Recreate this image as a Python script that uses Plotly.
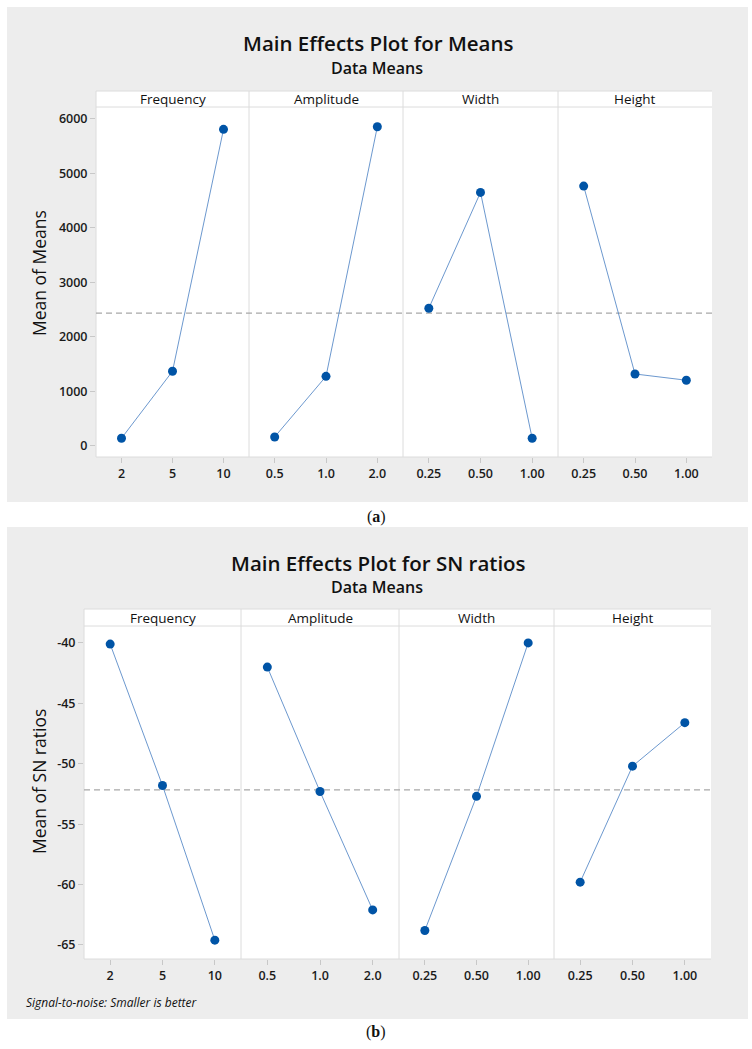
import plotly.graph_objects as go
import numpy as np

# ---------------- data ----------------
factors = ["Frequency", "Amplitude", "Width", "Height"]
levels = [["2", "5", "10"], ["0.5", "1.0", "2.0"], ["0.25", "0.50", "1.00"], ["0.25", "0.50", "1.00"]]
means_values = [[140, 1370, 5810], [164, 1276, 5857], [2527, 4653, 140], [4769, 1320, 1205]]
sn_values = [[-40.1, -51.8, -64.6], [-42.0, -52.3, -62.1], [-63.8, -52.7, -40.0], [-59.8, -50.2, -46.6]]
means_ticks = [0, 1000, 2000, 3000, 4000, 5000, 6000]
means_ticktext = ["0", "1000", "2000", "3000", "4000", "5000", "6000"]
sn_ticks = [-65, -60, -55, -50, -45, -40]
sn_ticktext = ["-65", "-60", "-55", "-50", "-45", "-40"]

W, H = 752, 1049
def px(x): return x / W
def py(y): return 1 - y / H

FONT = "Open Sans"
DARK = "#1a1a1a"
GRID = "#dcdcdc"
BG = "#ededed"
MARK = "#0054a6"
LINE = "#5b8cc8"

panels = [
    dict(values=means_values, xs=[96, 249, 403, 558, 712], plot_bottom=457, strip_bot=107, strip_top=91,
         bg=(7, 7, 748, 502), title="Main Effects Plot for Means", title_y=43, sub_y=68,
         ytitle="Mean of Means", ytitle_y=273, yrange=[-204, 6220], ticks=means_ticks, ticktext=means_ticktext,
         caption="(<b>a</b>)", cap_y=517),
    dict(values=sn_values, xs=[84, 241, 399, 554, 711], plot_bottom=959, strip_bot=626, strip_top=609,
         bg=(7, 527, 748, 1019), title="Main Effects Plot for SN ratios", title_y=563, sub_y=587,
         ytitle="Mean of SN ratios", ytitle_y=782, yrange=[-66.16, -38.6], ticks=sn_ticks, ticktext=sn_ticktext,
         caption="(<b>b</b>)", cap_y=1032),
]

fig = go.Figure()
shapes = []
annotations = []
layout = {}

axis_n = 0
for pi, P in enumerate(panels):
    yname = "y" if pi == 0 else "y2"
    ykey = "yaxis" if pi == 0 else "yaxis2"
    bx0, by0, bx1, by1 = P["bg"]
    shapes.append(dict(type="rect", xref="paper", yref="paper", x0=px(bx0), x1=px(bx1), y0=py(by1), y1=py(by0),
                       fillcolor=BG, line=dict(width=0), layer="below"))
    xs = P["xs"]
    shapes.append(dict(type="rect", xref="paper", yref="paper", x0=px(xs[0]), x1=px(xs[-1]),
                       y0=py(P["plot_bottom"]), y1=py(P["strip_top"]),
                       fillcolor="white", line=dict(width=0), layer="below"))
    for yy in (P["strip_top"], P["strip_bot"]):
        shapes.append(dict(type="line", xref="paper", yref="paper", x0=px(xs[0]), x1=px(xs[-1]),
                           y0=py(yy), y1=py(yy), line=dict(color=GRID, width=1), layer="below"))
    shapes.append(dict(type="line", xref="paper", yref="paper", x0=px(xs[0]), x1=px(xs[-1]),
                       y0=py(P["plot_bottom"]), y1=py(P["plot_bottom"]), line=dict(color=GRID, width=1), layer="below"))
    shapes.append(dict(type="line", xref="paper", yref="paper", x0=px(xs[0]), x1=px(xs[0]),
                       y0=py(P["plot_bottom"]), y1=py(P["strip_top"]), line=dict(color=GRID, width=1), layer="below"))
    for xx in xs[1:-1]:
        shapes.append(dict(type="line", xref="paper", yref="paper", x0=px(xx), x1=px(xx),
                           y0=py(P["plot_bottom"]), y1=py(P["strip_top"]), line=dict(color=GRID, width=1), layer="below"))
    gm = float(np.mean(P["values"]))
    shapes.append(dict(type="line", xref="paper", yref=yname, x0=px(xs[0]), x1=px(xs[-1]), y0=gm, y1=gm,
                       line=dict(color="#a8a8a8", width=1.3, dash="6px,4px"), layer="below"))

    for fi in range(4):
        axis_n += 1
        xname = "x" if axis_n == 1 else f"x{axis_n}"
        xkey = "xaxis" if axis_n == 1 else f"xaxis{axis_n}"
        layout[xkey] = dict(domain=[px(xs[fi]), px(xs[fi + 1])], anchor=yname, type="category",
                            categoryorder="array", categoryarray=levels[fi], range=[-0.5, 2.5],
                            showgrid=False, zeroline=False, showline=False, ticks="outside", ticklen=5,
                            tickcolor="#c8c8c8", tickfont=dict(family=FONT, size=12.5, color=DARK, weight=600),
                            fixedrange=True)
        fig.add_trace(go.Scatter(x=levels[fi], y=P["values"][fi], xaxis=xname, yaxis=yname, mode="lines+markers",
                                 line=dict(color=LINE, width=0.9), marker=dict(color=MARK, size=9),
                                 showlegend=False, hoverinfo="skip"))
        annotations.append(dict(text=factors[fi], xref="paper", yref="paper",
                                x=px((xs[fi] + xs[fi + 1]) / 2), y=py((P["strip_top"] + P["strip_bot"]) / 2),
                                showarrow=False, xanchor="center", yanchor="middle",
                                font=dict(family=FONT, size=13.5, color="#111111")))
        if fi == 0:
            layout[ykey] = dict(domain=[py(P["plot_bottom"]), py(P["strip_bot"])], anchor=xname,
                                range=P["yrange"], tickvals=P["ticks"], ticktext=P["ticktext"],
                                showgrid=False, zeroline=False, showline=False, ticks="outside", ticklen=5,
                                tickcolor="#c8c8c8", tickfont=dict(family=FONT, size=12.5, color=DARK, weight=600),
                                fixedrange=True)

    annotations.append(dict(text=P["title"], xref="paper", yref="paper", x=px(378), y=py(P["title_y"]),
                            showarrow=False, xanchor="center", yanchor="middle",
                            font=dict(family=FONT, size=20.5, color="#111111", weight=600)))
    annotations.append(dict(text="Data Means", xref="paper", yref="paper", x=px(377), y=py(P["sub_y"]),
                            showarrow=False, xanchor="center", yanchor="middle",
                            font=dict(family=FONT, size=16, color="#111111", weight=600)))
    annotations.append(dict(text=P["ytitle"], xref="paper", yref="paper", x=px(39), y=py(P["ytitle_y"]),
                            showarrow=False, xanchor="center", yanchor="middle", textangle=-90,
                            font=dict(family=FONT, size=17.5, color="#111111")))
    annotations.append(dict(text=P["caption"], xref="paper", yref="paper", x=px(376), y=py(P["cap_y"]),
                            showarrow=False, xanchor="center", yanchor="middle",
                            font=dict(family="Liberation Serif", size=16, color="#111111")))

annotations.append(dict(text="<i>Signal-to-noise: Smaller is better</i>", xref="paper", yref="paper",
                        x=px(24), y=py(1002), showarrow=False, xanchor="left", yanchor="middle",
                        font=dict(family=FONT, size=12, color="#111111")))

fig.update_layout(width=W, height=H, margin=dict(l=0, r=0, t=0, b=0), paper_bgcolor="white",
                  plot_bgcolor="rgba(0,0,0,0)", shapes=shapes, annotations=annotations, showlegend=False,
                  **layout)
fig.write_html("out.html", config={"displayModeBar": False},
               post_script="document.body.style.margin='0';document.body.style.padding='0';")
